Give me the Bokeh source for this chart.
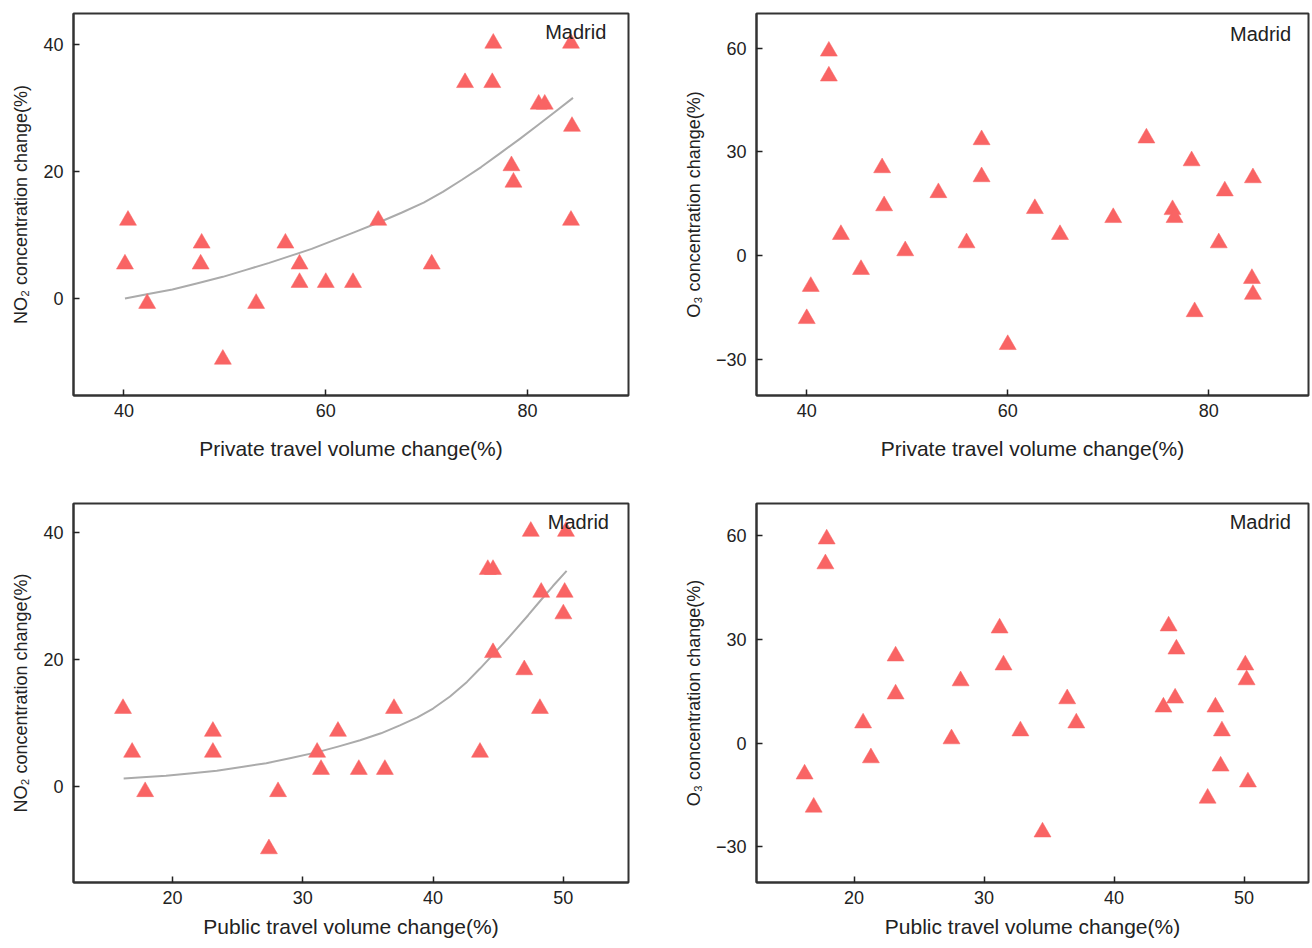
from bokeh.plotting import figure
from bokeh.layouts import column, row
from bokeh.models import FixedTicker, Label, Range1d
from bokeh.embed import file_html
from bokeh.resources import INLINE

# ---------------- data ----------------
# Private travel volume change (%) vs NO2 concentration change (%)
priv_no2_x = [40.1, 40.4, 42.3, 47.6, 47.7, 49.8, 53.1, 56.0, 57.4, 57.4, 60.0, 62.7,
              65.2, 70.5, 73.8, 76.5, 76.6, 78.4, 78.6, 81.1, 81.7, 84.3, 84.4, 84.3]
priv_no2_y = [5.4, 12.3, -0.8, 5.4, 8.7, -9.6, -0.8, 8.7, 5.4, 2.5, 2.5, 2.5,
              12.3, 5.4, 34.0, 34.0, 40.2, 20.9, 18.3, 30.6, 30.6, 40.2, 27.1, 12.3]
# fitted curve, points
priv_fit_x = [40.1, 42.4, 44.8, 47.3, 49.8, 52.1, 54.4, 56.5, 58.6, 60.7, 62.8, 65.3,
              67.5, 69.7, 71.6, 73.5, 75.4, 77.3, 79.2, 81.1, 82.8, 84.5]
priv_fit_y = [0.0, 0.7, 1.4, 2.4, 3.4, 4.5, 5.6, 6.7, 7.8, 9.1, 10.4, 12.0,
              13.5, 15.1, 16.8, 18.7, 20.7, 22.9, 25.1, 27.4, 29.5, 31.6]

# Private travel volume change (%) vs O3 concentration change (%)
priv_o3_x = [40.0, 40.4, 42.2, 42.2, 43.4, 45.4, 47.5, 47.7, 49.8, 53.1, 55.9, 57.4, 57.4, 60.0,
             62.7, 65.2, 70.5, 73.8, 76.4, 76.6, 78.3, 78.6, 81.0, 81.6, 84.4, 84.3, 84.4]
priv_o3_y = [-18.2, -8.9, 59.1, 51.9, 6.1, -4.0, 25.4, 14.4, 1.4, 18.2, 3.7, 33.5, 22.8, -25.7,
             13.6, 6.1, 11.0, 34.0, 13.3, 11.0, 27.4, -16.2, 3.7, 18.7, 22.5, -6.6, -11.2]

# Public travel volume change (%) vs NO2 concentration change (%)
pub_no2_x = [16.2, 16.9, 17.9, 23.1, 23.1, 27.4, 28.1, 31.1, 31.4, 32.7, 34.3, 36.3,
             37.0, 43.6, 44.2, 44.6, 47.5, 44.6, 47.0, 48.3, 50.1, 50.2, 50.0, 48.2]
pub_no2_y = [12.3, 5.4, -0.8, 5.4, 8.7, -9.8, -0.8, 5.4, 2.7, 8.7, 2.7, 2.7,
             12.3, 5.4, 34.2, 34.2, 40.2, 21.1, 18.4, 30.6, 30.6, 40.2, 27.2, 12.3]
pub_fit_x = [16.25, 18.0, 19.5, 21.5, 23.4, 25.3, 27.2, 29.1, 31.05, 32.7, 34.4, 36.0,
             37.45, 38.8, 40.0, 41.3, 42.6, 43.6, 44.6, 45.5, 46.4, 47.3, 48.2, 49.2, 50.25]
pub_fit_y = [1.3, 1.5, 1.7, 2.1, 2.5, 3.1, 3.7, 4.5, 5.4, 6.3, 7.3, 8.4,
             9.65, 10.9, 12.3, 14.2, 16.5, 18.6, 20.8, 22.8, 24.9, 27.0, 29.2, 31.6, 34.0]

# Public travel volume change (%) vs O3 concentration change (%)
pub_o3_x = [16.2, 16.9, 17.9, 17.8, 20.7, 21.3, 23.2, 23.2, 27.5, 28.2, 31.2, 31.5, 32.8, 34.5,
            36.4, 37.1, 43.8, 44.2, 44.8, 44.7, 47.2, 47.8, 48.3, 48.2, 50.1, 50.2, 50.3]
pub_o3_y = [-9.0, -18.6, 59.1, 51.9, 5.8, -4.3, 25.2, 14.2, 1.2, 18.0, 33.3, 22.6, 3.5, -25.8,
            12.8, 5.8, 10.4, 33.9, 27.2, 13.0, -16.0, 10.4, 3.5, -6.7, 22.6, 18.3, -11.3]

no2_ticks = [0, 20, 40]
o3_ticks = [-30, 0, 30, 60]
priv_ticks = [40, 60, 80]
pub_ticks = [20, 30, 40, 50]

city = "Madrid"
priv_label = "Private travel volume change(%)"
pub_label = "Public travel volume change(%)"
no2_label = "NO\u2082 concentration change(%)"
o3_label = "O\u2083 concentration change(%)"

# ---------------- styling ----------------
FONT = "Liberation Sans"
MARK = "#F96464"
FIT = "#ABABAB"
INK = "#222222"


def panel(x, y, xr, yr, xt, yt, xl, yl, w, h, bl, br, bt, bb, lab_xy,
          fx=None, fy=None, xlab_standoff=17):
    p = figure(width=w, height=h, x_range=Range1d(*xr), y_range=Range1d(*yr),
               output_backend="svg", toolbar_location=None,
               min_border_left=bl, min_border_right=br,
               min_border_top=bt, min_border_bottom=bb)
    p.grid.visible = False
    p.outline_line_color = "#333333"
    p.outline_line_width = 2
    p.outline_line_alpha = 1
    if fx is not None:
        p.line(fx, fy, line_color=FIT, line_width=2, line_join="round")
    p.scatter(x, y, marker="triangle", size=17, fill_color=MARK, line_color=MARK,
              line_width=0.5)
    for ax, ticks, lab in ((p.xaxis[0], xt, xl), (p.yaxis[0], yt, yl)):
        ax.ticker = FixedTicker(ticks=ticks)
        ax.minor_tick_line_color = None
        ax.major_tick_in = 6
        ax.major_tick_out = 0
        ax.major_tick_line_color = INK
        ax.major_tick_line_width = 1.5
        ax.axis_line_color = "#333333"
        ax.axis_line_width = 2
        ax.major_label_text_font = FONT
        ax.major_label_text_font_size = "18px"
        ax.major_label_text_color = INK
        ax.axis_label = lab
        ax.axis_label_text_font = FONT
        ax.axis_label_text_font_style = "normal"
        ax.axis_label_text_color = INK
    p.xaxis.axis_label_text_font_size = "21px"
    p.yaxis.axis_label_text_font_size = "18px"
    p.xaxis.major_label_standoff = 8
    p.xaxis.axis_label_standoff = xlab_standoff
    p.yaxis.major_label_standoff = 10
    p.yaxis.axis_label_standoff = 9
    p.add_layout(Label(x=lab_xy[0], y=lab_xy[1], text=city, text_align="right",
                       text_baseline="middle", text_font=FONT, text_font_size="20px",
                       text_color=INK))
    return p


p1 = panel(priv_no2_x, priv_no2_y, (35, 90), (-15.3, 44.9), priv_ticks, no2_ticks,
           priv_label, no2_label, 660, 490, 73, 32, 13, 95, (87.8, 42.0),
           priv_fit_x, priv_fit_y)
p2 = panel(priv_o3_x, priv_o3_y, (35, 89.93), (-40.4, 70), priv_ticks, o3_ticks,
           priv_label, o3_label, 650, 490, 96, 2, 13, 95, (88.2, 64.0))
p3 = panel(pub_no2_x, pub_no2_y, (12.4, 55), (-15.1, 44.6), pub_ticks, no2_ticks,
           pub_label, no2_label, 660, 456, 73, 32, 13, 64, (53.5, 41.7),
           pub_fit_x, pub_fit_y, xlab_standoff=8)
p4 = panel(pub_o3_x, pub_o3_y, (12.5, 54.96), (-40.4, 69.4), pub_ticks, o3_ticks,
           pub_label, o3_label, 650, 456, 96, 2, 13, 64, (53.6, 64.0),
           xlab_standoff=8)

layout = column(row(p1, p2, spacing=0), row(p3, p4, spacing=0), spacing=0)

open("out.html", "w").write(file_html(layout, INLINE))
